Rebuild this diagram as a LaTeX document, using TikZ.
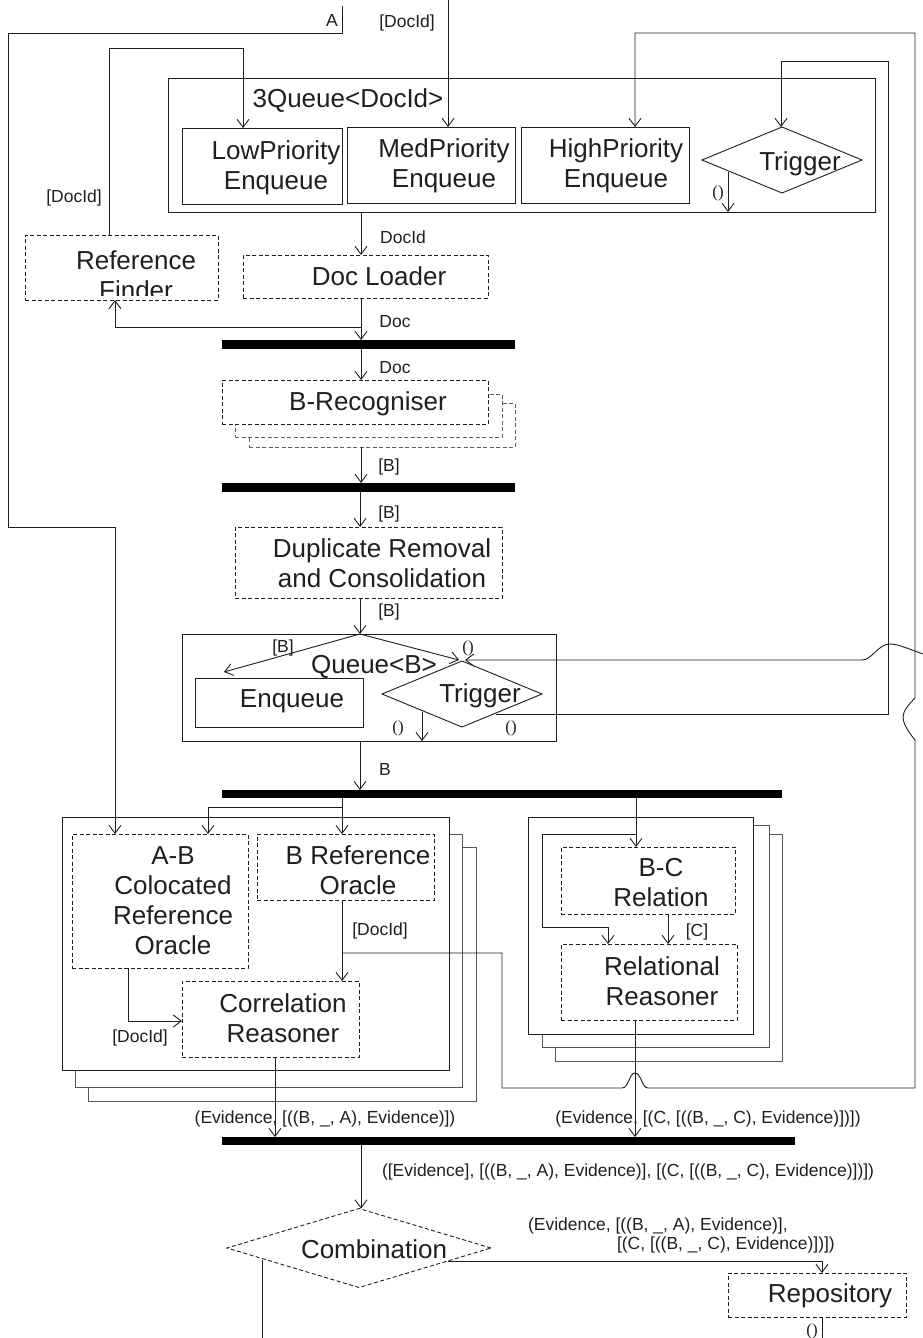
\documentclass[tikz,border=0pt]{standalone}
\usepackage{fontspec}
\setmainfont{Liberation Sans}
\newfontfamily\serifp{Liberation Serif}
\usetikzlibrary{arrows.meta,shapes.geometric}
\definecolor{ink}{HTML}{1E1E1E}
\definecolor{txt}{HTML}{1F1F1F}
\begin{document}
\begin{tikzpicture}[x=1pt,y=-1pt,
  line width=0.9pt, color=ink,
  every node/.style={inner sep=0pt, outer sep=0pt},
  sbox/.style={draw=ink, rectangle, anchor=north west, fill=white},
  dbox/.style={sbox, dash pattern=on 4pt off 2.5pt},
  gbox/.style={sbox, draw=ink!75},
  gdbox/.style={dbox, draw=ink!70},
  dia/.style={draw=ink, diamond, fill=white},
  arr/.style={-{Straight Barb[length=8pt,width=12pt]}},
  big/.style={font=\fontsize{26}{30}\selectfont, text=txt, align=center},
  lab/.style={font=\fontsize{17.5}{19}\selectfont, text=txt},
  unitlab/.style={font=\serifp\fontsize{17}{19}\selectfont, text=txt, anchor=base},
  barst/.style={fill=black, draw=none, rectangle, anchor=north west},
]
\useasboundingbox (0,0) rectangle (923,1338);

% ---------- boxes ----------
\node[sbox, minimum width=707pt, minimum height=134pt] (q3) at (168,78) {};
\node[sbox, minimum width=160pt, minimum height=76pt] (lowp) at (182,128) {};
\node[sbox, minimum width=168pt, minimum height=76pt] (medp) at (347,127) {};
\node[sbox, minimum width=168pt, minimum height=76pt] (highp) at (521,127) {};
\node[dia, minimum width=160pt, minimum height=66pt] (trig1) at (782,160) {};

\node[dbox, minimum width=193pt, minimum height=65pt] (refF) at (25,235) {};
\node[dbox, minimum width=245pt, minimum height=43pt] (dl) at (243,255) {};
\node[barst, minimum width=293pt, minimum height=9pt] (bar1) at (222,340) {};

\node[gdbox, minimum width=266pt, minimum height=44pt] (brec3) at (249,403) {};
\node[gdbox, minimum width=267pt, minimum height=43pt] (brec2) at (235,394) {};
\node[dbox, minimum width=266pt, minimum height=44pt] (brec) at (222,380) {};
\node[barst, minimum width=293pt, minimum height=9pt] (bar2) at (222,483) {};

\node[dbox, minimum width=267pt, minimum height=71pt] (dup) at (235,527) {};

\node[sbox, minimum width=374pt, minimum height=107pt] (qb) at (182,634) {};
\node[sbox, minimum width=168pt, minimum height=49pt] (enq) at (195,678) {};
\node[dia, minimum width=160pt, minimum height=66pt] (trig2) at (462,694) {};

\node[barst, minimum width=560pt, minimum height=8pt] (bar3) at (222,790) {};

\node[gbox, minimum width=388pt, minimum height=254pt] (left3) at (88,847) {};
\node[gbox, minimum width=387pt, minimum height=253pt] (left2) at (75,834) {};
\node[sbox, minimum width=387pt, minimum height=253pt] (left1) at (62,817) {};
\node[dbox, minimum width=176pt, minimum height=134pt] (ab) at (72,834) {};
\node[dbox, minimum width=177pt, minimum height=66pt] (bro) at (257,834) {};
\node[dbox, minimum width=177pt, minimum height=76pt] (cr) at (182,981) {};

\node[gbox, minimum width=227pt, minimum height=227pt] (right3) at (555,834) {};
\node[gbox, minimum width=227pt, minimum height=222pt] (right2) at (542,825) {};
\node[sbox, minimum width=225pt, minimum height=217pt] (right1) at (528,817) {};
\node[dbox, minimum width=174pt, minimum height=67pt] (bc) at (561,847) {};
\node[dbox, minimum width=176pt, minimum height=76pt] (rr) at (561,944) {};

\node[barst, minimum width=573pt, minimum height=8pt] (bar4) at (222,1137) {};
\node[dia, dash pattern=on 4pt off 2.5pt, minimum width=264pt, minimum height=79pt] (comb) at (359,1248) {};
\node[dbox, minimum width=178pt, minimum height=44pt] (repo) at (728,1273) {};

% ---------- box texts ----------
\node[big, anchor=base] (tq3) at (348,107) {3Queue<DocId>};
\node[big] (tlowp) at (276,168) {LowPriority\\Enqueue};
\node[big] (tmedp) at (444,166) {MedPriority\\Enqueue};
\node[big] (thighp) at (616,166) {HighPriority\\Enqueue};
\node[big, anchor=base] (ttrig1) at (800,170) {Trigger};
\begin{scope}
\clip (25,235) rectangle (218,295);
\node[big] (trefF) at (136,275) {Reference\\Finder};
\end{scope}
\node[big, anchor=base] (tdl) at (379,285) {Doc Loader};
\node[big, anchor=base] (tbrec) at (368,410) {B-Recogniser};
\node[big] (tdup) at (382,563) {Duplicate Removal\\and Consolidation};
\node[big, anchor=base] (tqb) at (374,673) {Queue<B>};
\node[big, anchor=base] (tenq) at (292,707) {Enqueue};
\node[big, anchor=base] (ttrig2) at (480,702) {Trigger};
\node[big] (tab) at (173,901) {A-B\\Colocated\\Reference\\Oracle};
\node[big] (tbro) at (358,870) {B Reference\\Oracle};
\node[big] (tcr) at (283,1018) {Correlation\\Reasoner};
\node[big] (tbc) at (661,883) {B-C\\Relation};
\node[big] (trr) at (662,981) {Relational\\Reasoner};
\node[big, anchor=base] (tcomb) at (374,1258) {Combination};
\node[big, anchor=base] (trepo) at (830,1302) {Repository};

% ---------- helper coordinates ----------
\coordinate (xM) at (361,0);
\coordinate (xM2) at (360,0);
\coordinate (xB) at (342,0);
\coordinate (xRF) at (115,0);
\coordinate (xAB) at (208,0);
\coordinate (xBC) at (636,0);
\coordinate (xRR) at (608,0);
\coordinate (xABo) at (128,0);
\coordinate (xC) at (668,0);
\coordinate (xCR) at (275,0);
\coordinate (xRo) at (635,0);
\coordinate (xRepo) at (822,0);
\coordinate (bot) at (0,1338);

\coordinate (cA) at (342,6);
\coordinate (cA1) at (8,33);
\coordinate (cA2) at (115,527);
\coordinate (cIn) at (448,0);
\coordinate (cR1) at (109,48);
\coordinate (cR2) at (243,48);
\coordinate (t2o) at (496,714);
\coordinate (cT1) at (888,714);
\coordinate (cT2) at (781,61);
\coordinate (t1o) at (728,172);
\coordinate (cD) at (361,327);
\coordinate (enqIn) at (224,672);
\coordinate (trIn) at (459,660);
\coordinate (trIn2) at (465,660);
\coordinate (t2d) at (422,712);
\coordinate (cb1) at (342,807);
\coordinate (cbc) at (636,834);
\coordinate (cbc2) at (542,927);
\coordinate (cabo) at (128,1021);
\coordinate (co) at (448,1261);
\coordinate (cco) at (262,1260);
\coordinate (h1) at (342,953);
\coordinate (h2) at (502,1088);
\coordinate (rin) at (923,654);

% ---------- connectors ----------
\draw[arr] (cA) |- (cA1) |- (cA2) -- (cA2 |- ab.north);
\draw[arr] (cIn) -- (cIn |- medp.north);
\draw[arr] (refF.north -| cR1) -- (cR1) -- (cR2) -- (cR2 |- lowp.north);
\draw[arr] (t2o) -- (cT1) |- (cT2) -- (cT2 |- trig1.north);
\draw[arr] (t1o) -- (t1o |- q3.south);
\draw[arr] (q3.south -| xM) -- (dl.north -| xM);
\draw[arr] (dl.south -| xM) -- (bar1.north -| xM);
\draw[arr] (cD) -| (refF.south -| xRF);
\draw[arr] (bar1.south -| xM) -- (brec.north -| xM);
\draw[arr] (brec3.south -| xM) -- (bar2.north -| xM);
\draw[arr] (bar2.south -| xM2) -- (dup.north -| xM2);
\draw[arr] (dup.south -| xM2) -- (qb.north -| xM2);
\draw[arr] (qb.north -| xM2) -- (enqIn);
\draw[arr] (qb.north -| xM2) -- (trIn);
\draw[arr] (t2d) -- (t2d |- qb.south);
\draw[arr] (rin) .. controls (906,648) and (898,644) .. (890,644)
  .. controls (878,644) and (872,660) .. (862,660) -- (trIn2);
\draw[arr] (qb.south -| xM2) -- (bar3.north -| xM2);
\draw[arr] (bar3.south -| xB) -- (bro.north -| xB);
\draw[arr] (cb1) -| (ab.north -| xAB);
\draw[arr] (bar3.south -| xBC) -- (bc.north -| xBC);
\draw[arr] (cbc) -| (cbc2) -| (rr.north -| xRR);
\draw[arr] (ab.south -| xABo) |- (cr.west |- cabo);
\draw[arr] (bro.south -| xB) -- (cr.north -| xB);
\draw[arr] (bc.south -| xC) -- (rr.north -| xC);
\draw[arr] (cr.south -| xCR) -- (bar4.north -| xCR);
\draw[arr] (rr.south -| xRo) -- (bar4.north -| xRo);
\draw[arr] (bar4.south -| xM) -- (comb.north -| xM);
\draw[arr] (co) -| (repo.north -| xRepo);
\draw (repo.south -| xRepo) -- (xRepo |- bot);
\draw (cco) -- (cco |- bot);
\draw[arr] (h1) -| (h2) -- (622,1088)
  .. controls (629,1088) and (629,1073) .. (635,1073)
  .. controls (641,1073) and (642,1088) .. (648,1088)
  -- (915,1088) -- (915,740)
  .. controls (906,729) and (903,722) .. (903,717)
  .. controls (903,711) and (909,704) .. (915,698)
  -- (915,33) -| (highp.north -| xRo);

% ---------- labels ----------
\node[lab, anchor=base] (lA) at (332,27) {A};
\node[lab, anchor=base] (lin) at (407,28) {[DocId]};
\node[lab, anchor=base] (lrf) at (74,202) {[DocId]};
\node[lab, anchor=base] (ldocid) at (403,243) {DocId};
\node[lab, anchor=base] (ldoc1) at (395,327) {Doc};
\node[lab, anchor=base] (ldoc2) at (395,373) {Doc};
\node[lab, anchor=base] (lb1) at (389,471) {[B]};
\node[lab, anchor=base] (lb2) at (389,518) {[B]};
\node[lab, anchor=base] (lb3) at (389,616) {[B]};
\node[lab, anchor=base] (lb4) at (283,652) {[B]};
\node[lab, anchor=base] (lb5) at (385,775) {B};
\node[lab, anchor=base] (lbro) at (380,935) {[DocId]};
\node[lab, anchor=base] (lc) at (697,936) {[C]};
\node[lab, anchor=base] (lab2) at (140,1042) {[DocId]};
\node[lab, anchor=base] (lev1) at (325,1123) {(Evidence, [((B, \_, A), Evidence)])};
\node[lab, anchor=base] (lev2) at (708,1123) {(Evidence, [(C, [((B, \_, C), Evidence)])])};
\node[lab, anchor=base west] (lev3) at (382,1176) {([Evidence], [((B, \_, A), Evidence)], [(C, [((B, \_, C), Evidence)])])};
\node[lab, anchor=base west] (lev4) at (528,1230) {(Evidence, [((B, \_, A), Evidence)],};
\node[lab, anchor=base west] (lev5) at (617,1249) {[(C, [((B, \_, C), Evidence)])])};

\node[unitlab] (u1) at (718,197) {()};
\node[unitlab] (u2) at (468,652) {()};
\node[unitlab] (u3) at (398,732) {()};
\node[unitlab] (u4) at (511,732) {()};
\node[unitlab] (u5) at (812,1335) {()};
\end{tikzpicture}
\end{document}
